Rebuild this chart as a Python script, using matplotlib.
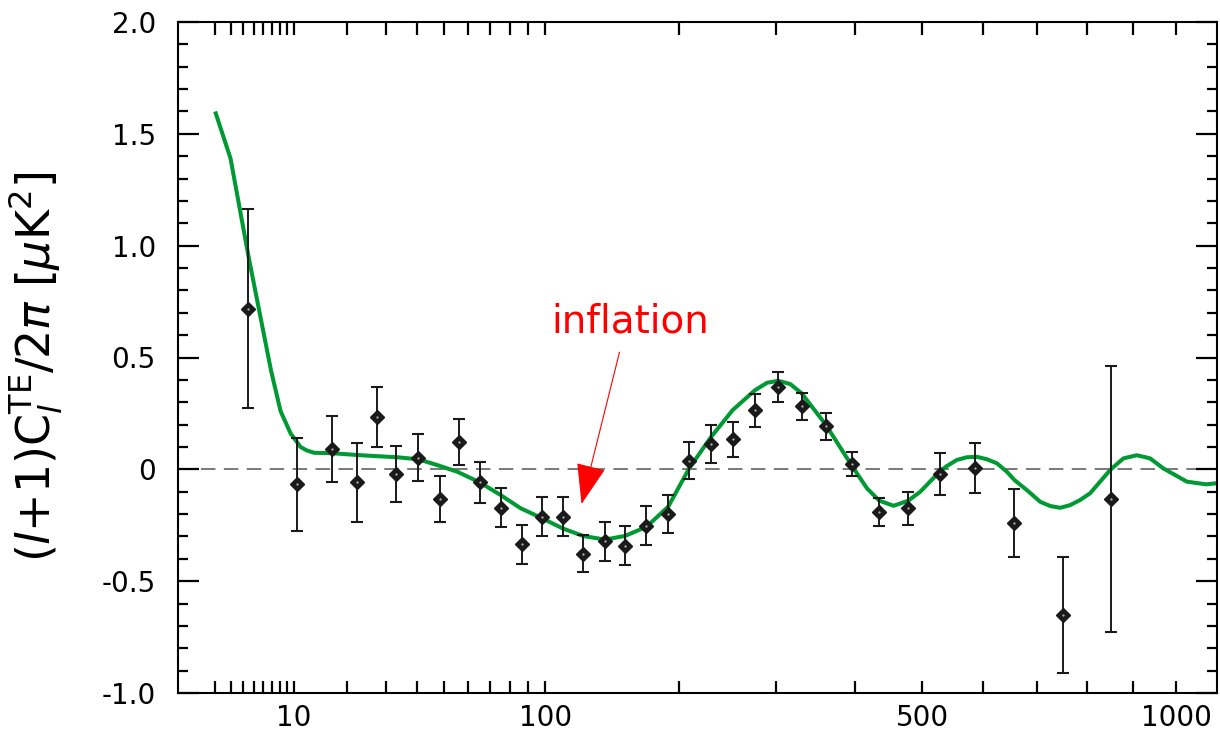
import numpy as np
import matplotlib
matplotlib.use("Agg")
import matplotlib.pyplot as plt
from matplotlib.ticker import FixedLocator, FixedFormatter, NullFormatter, MultipleLocator

plt.rcParams['font.family'] = ['DejaVu Sans']
plt.rcParams['mathtext.fontset'] = 'dejavusans'

# ---- data ----
ell_data = [4.4, 10.4, 16.8, 22.3, 27.4, 33.2, 40.4, 48.2, 56.2, 65.2, 75.7, 86.8,
            98.2, 110.7, 124.3, 139.6, 154.7, 172.1, 190.7, 209.7, 230.5, 252.8,
            276.8, 303.3, 331.1, 361.9, 396.5, 434.9, 478.1, 527.4, 586.8, 657.7,
            751.1, 851.2]
te_data = [0.717, -0.067, 0.091, -0.058, 0.235, -0.022, 0.052, -0.134, 0.122, -0.058,
           -0.172, -0.335, -0.212, -0.212, -0.377, -0.321, -0.341, -0.252, -0.201,
           0.039, 0.112, 0.134, 0.265, 0.369, 0.282, 0.192, 0.024, -0.192, -0.175,
           -0.021, 0.007, -0.240, -0.651, -0.133]
te_err = [0.445, 0.209, 0.148, 0.176, 0.133, 0.126, 0.106, 0.103, 0.101, 0.091,
          0.087, 0.088, 0.087, 0.087, 0.082, 0.087, 0.087, 0.086, 0.085, 0.084,
          0.085, 0.078, 0.074, 0.067, 0.060, 0.059, 0.055, 0.062, 0.075, 0.092,
          0.112, 0.150, 0.258, 0.593]

ell_model = [2, 3, 4.5, 6.9, 8.1, 9.5, 10.0, 11.0, 12.0, 13.3, 16.8, 22.4, 27.4, 33.5,
             40.4, 47.3, 55.4, 65.2, 75.4, 85.9, 98.2, 110.7, 124.3, 139.6, 154.7,
             172.1, 190.7, 209.7, 230.5, 252.8, 276.8, 290.3, 303.3, 317.4, 331.1,
             361.9, 396.5, 417.3, 434.9, 455.9, 478.1, 496.7, 527.4, 539.5, 556.1,
             573.0, 590.2, 607.7, 625.6, 643.8, 657.7, 681.0, 706.4, 725.9, 745.7,
             765.9, 786.3, 807.1, 828.2, 851.2, 878.7, 908.5, 938.8, 969.5, 993.1,
             1025.3, 1072.5, 1100]
te_model = [1.60, 1.39, 0.95, 0.44, 0.26, 0.16, 0.14, 0.10, 0.085, 0.074, 0.072, 0.064,
            0.059, 0.054, 0.045, 0.019, -0.011, -0.058, -0.115, -0.174, -0.219, -0.264,
            -0.298, -0.314, -0.298, -0.257, -0.167, 0.004, 0.143, 0.265, 0.354, 0.387,
            0.396, 0.381, 0.340, 0.198, 0.015, -0.085, -0.140, -0.163, -0.140, -0.100,
            -0.011, 0.015, 0.042, 0.054, 0.056, 0.045, 0.027, -0.011, -0.048, -0.093,
            -0.145, -0.164, -0.172, -0.160, -0.137, -0.107, -0.055, 0.0, 0.049, 0.063,
            0.049, 0.004, -0.021, -0.055, -0.067, -0.062]

xmajor = [10, 100, 500, 1000]
xmajor_labels = ['10', '100', '500', '1000']
xminor = [2, 3, 4, 5, 6, 7, 8, 9, 20, 30, 40, 50, 60, 70, 80, 90,
          200, 300, 400, 600, 700, 800, 900]
ymajor = [-1.0, -0.5, 0.0, 0.5, 1.0, 1.5, 2.0]
ymajor_labels = ['-1.0', '-0.5', '0', '0.5', '1.0', '1.5', '2.0']

# ---- figure ----
fig = plt.figure(figsize=(12.2, 7.44), dpi=100)
ax = fig.add_axes([178/1220, 1 - 693/744, (1217-178)/1220, (693-22)/744])

def fwd(x):
    return np.sign(x) * np.abs(x) ** 0.4

def inv(y):
    return np.sign(y) * np.abs(y) ** 2.5

ax.set_xscale('function', functions=(fwd, inv))
ax.set_xlim(0.5, 1100)
ax.set_ylim(-1.0, 2.0)

ax.axhline(0, color='#555555', lw=1.1, dashes=(9.5, 5.5), zorder=1)

ax.plot(ell_model, te_model, color='#009933', lw=2.9, solid_joinstyle='round',
        solid_capstyle='butt', zorder=2)

ax.errorbar(ell_data, te_data, yerr=te_err, fmt='none', ecolor='#1a1a1a',
            elinewidth=1.4, capsize=4.5, capthick=1.5, zorder=3)
ax.plot(ell_data, te_data, 'D', color='#1a1a1a', markersize=7.5, zorder=4)
ax.plot(ell_data, te_data, '.', color='#bbbbbb', markersize=1.2, zorder=5)

# annotation
ax.annotate('', xy=(123.2, -0.155), xytext=(150.6, 0.524),
            arrowprops=dict(arrowstyle='-|>,head_length=2.6,head_width=0.95',
                            mutation_scale=10, color='red', lw=0.8,
                            shrinkA=0, shrinkB=0), zorder=6)
ax.text(159.1, 0.612, 'inflation', color='red', fontsize=28, ha='center',
        va='baseline', zorder=6)

# ticks
ax.xaxis.set_major_locator(FixedLocator(xmajor))
ax.xaxis.set_major_formatter(FixedFormatter(xmajor_labels))
ax.xaxis.set_minor_locator(FixedLocator(xminor))
ax.xaxis.set_minor_formatter(NullFormatter())
ax.yaxis.set_major_locator(FixedLocator(ymajor))
ax.yaxis.set_major_formatter(FixedFormatter(ymajor_labels))
ax.yaxis.set_minor_locator(MultipleLocator(0.1))

ax.tick_params(axis='both', which='both', direction='in', top=True, right=True,
               colors='black', width=1.6, labelsize=20)
ax.tick_params(axis='x', which='both', length=9, pad=8)
ax.tick_params(axis='y', which='major', length=15, pad=16)
ax.tick_params(axis='y', which='minor', length=7.5)

for s in ax.spines.values():
    s.set_linewidth(1.5)
    s.set_color('black')

ax.set_ylabel('(' + r'$l$' + '+1)C' + r'$_l^{\rm TE}$' + '/2' + r'$\pi$' + ' [' +
              r'$\mu$' + 'K' + r'$^2$' + ']', fontsize=33)
ax.yaxis.set_label_coords(-0.109, 0.486)

fig.savefig('out.png', dpi=100)
